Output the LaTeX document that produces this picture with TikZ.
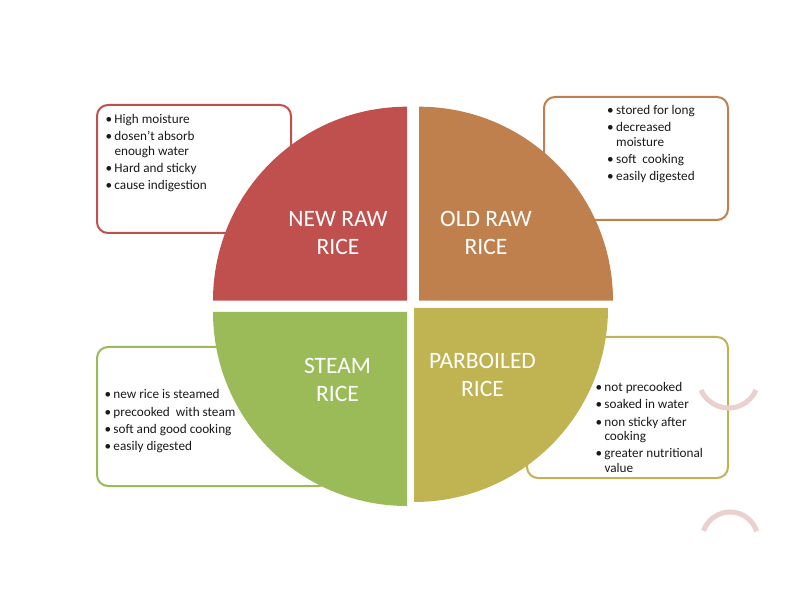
\documentclass[tikz,border=0pt]{standalone}
\usepackage{fontspec}
\setmainfont{Carlito}
\definecolor{rawred}{HTML}{C0504D}
\definecolor{oldbrown}{HTML}{C0804D}
\definecolor{steamgreen}{HTML}{9BBB59}
\definecolor{parolive}{HTML}{BFB352}
\definecolor{pinkarc}{HTML}{EBD0D0}
\definecolor{itemtext}{HTML}{1A1A1A}
% bullet and hanging indent for the lists
\newcommand{\bul}{\makebox[9pt][l]{\textbullet}}
\newcommand{\cont}{\hspace*{9pt}}
\begin{document}
\begin{tikzpicture}[x=1pt,y=1pt,
  infobox/.style={draw=#1, line width=2pt, rounded corners=11pt, fill=white},
  quadlabel/.style={text=white, inner sep=0pt, anchor=base,
    font=\fontsize{23.5}{27.5}\selectfont},
  items/.style={text=itemtext, inner sep=0pt, anchor=base west,
    font=\fontsize{13.2}{14.3}\selectfont},
  swirl/.style={draw=pinkarc, line width=5pt}]
\useasboundingbox (0,0) rectangle (800,600);

% outlined description boxes
\draw[infobox=rawred]     (97,367)  rectangle (291,495);
\draw[infobox=oldbrown]   (544,380) rectangle (728,503);
\draw[infobox=steamgreen] (97,114)  rectangle (330,253);
\draw[infobox=parolive]   (527,122) rectangle (728,263);

% four quarter discs
\fill[rawred]     (407,299.3) -- ++(-194,0) arc[start angle=180, end angle=90,  radius=194] -- cycle;
\fill[oldbrown]   (419,299.3) -- ++(0,194)  arc[start angle=90,  end angle=0,   radius=194] -- cycle;
\fill[steamgreen] (407,288)   -- ++(-194,0) arc[start angle=180, end angle=270, radius=194] -- cycle;
\fill[parolive]   (414,292)   -- ++(194,0)  arc[start angle=0,   end angle=-90, radius=194] -- cycle;

% quarter titles
\node[quadlabel] (newraw) at (338,373)   {\begin{tabular}[t]{@{}c@{}}NEW RAW\\RICE\end{tabular}};
\node[quadlabel] (oldraw) at (486,373)   {\begin{tabular}[t]{@{}c@{}}OLD RAW\\RICE\end{tabular}};
\node[quadlabel] (steam)  at (337.5,226) {\begin{tabular}[t]{@{}c@{}}STEAM\\RICE\end{tabular}};
\node[quadlabel] (parb)   at (482.5,231) {\begin{tabular}[t]{@{}c@{}}PARBOILED\\RICE\end{tabular}};

% bullet lists
\node[items] (newlist) at (105.3,476.5) {\begin{tabular}[t]{@{}l@{}}
  \bul High moisture\\[3pt]
  \bul dosen{\char"27}t absorb\\
  \cont enough\ water\\[3pt]
  \bul Hard and sticky\\[3pt]
  \bul cause indigestion
\end{tabular}};
\node[items] (oldlist) at (607,485.3) {\begin{tabular}[t]{@{}l@{}}
  \bul stored for long\\[3pt]
  \bul decreased\\
  \cont moisture\\[3pt]
  \bul soft\ \ cooking\\[3pt]
  \bul easily digested
\end{tabular}};
\node[items] (steamlist) at (104.3,201) {\begin{tabular}[t]{@{}l@{}}
  \bul new rice is steamed\\[3pt]
  \bul precooked\ \ with steam\\[3pt]
  \bul soft and good cooking\\[3pt]
  \bul easily digested
\end{tabular}};
\node[items] (parlist) at (595.3,208.5) {\begin{tabular}[t]{@{}l@{}}
  \bul not precooked\\[3pt]
  \bul soaked in water\\[3pt]
  \bul non sticky after\\
  \cont cooking\\[3pt]
  \bul greater nutritional\\
  \cont value
\end{tabular}};

% small pink arcs at the right edge
\draw[swirl] (728.5,222) ++(203.6:30) arc[start angle=203.6, end angle=336.4, radius=30];
\draw[swirl] (730,60) ++(161:28) arc[start angle=161, end angle=18, radius=28];
\end{tikzpicture}
\end{document}
